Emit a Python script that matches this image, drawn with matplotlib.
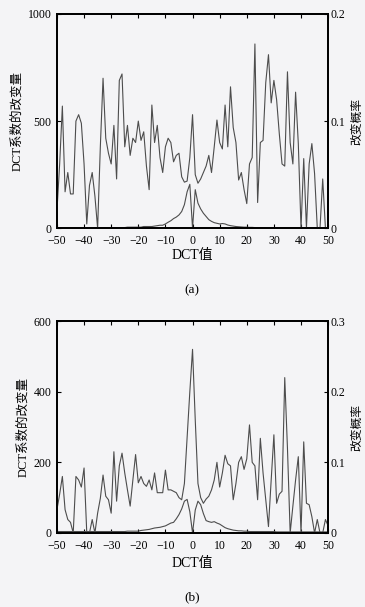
import numpy as np
import matplotlib
matplotlib.use("Agg")
import matplotlib.pyplot as plt

plt.rcParams['font.family'] = ['Liberation Serif', 'Noto Sans CJK SC']
plt.rcParams['axes.unicode_minus'] = True

# DCT values
dct = list(range(-50, 51))

# (a) change probability (right axis)
prob_a = [0.016, 0.060, 0.114, 0.034, 0.052, 0.032, 0.032, 0.100, 0.106, 0.098,
          0.060, 0.004, 0.040, 0.052, 0.030, 0.000, 0.076, 0.140, 0.084, 0.070,
          0.060, 0.096, 0.046, 0.138, 0.144, 0.076, 0.096, 0.068, 0.084, 0.080,
          0.100, 0.082, 0.090, 0.058, 0.036, 0.115, 0.080, 0.096, 0.066, 0.052,
          0.076, 0.084, 0.080, 0.062, 0.068, 0.070, 0.048, 0.043, 0.044, 0.066,
          0.106,
          0.050, 0.042, 0.046, 0.052, 0.058, 0.068, 0.052, 0.076, 0.101, 0.080,
          0.074, 0.115, 0.076, 0.132, 0.094, 0.080, 0.045, 0.052, 0.036, 0.023,
          0.060, 0.066, 0.172, 0.024, 0.080, 0.082, 0.136, 0.162, 0.117, 0.138,
          0.120, 0.088, 0.060, 0.058, 0.146, 0.080, 0.060, 0.127, 0.079, 0.000,
          0.065, 0.000, 0.060, 0.079, 0.051, 0.000, 0.000, 0.046, 0.000, 0.000]

# (a) number of changed coefficients (left axis)
count_a = [2, 2, 2, 2, 2, 2, 2, 2, 2, 2,
           2, 2, 2, 2, 2, 3, 3, 3, 3, 3,
           3, 3, 3, 3, 3, 3, 5, 5, 5, 5,
           5, 5, 8, 8, 8, 8, 10, 12, 14, 14,
           20, 28, 35, 45, 52, 62, 78, 110, 170, 205,
           0,
           180, 117, 90, 70, 55, 40, 32, 26, 23, 20,
           22, 20, 15, 12, 10, 8, 7, 6, 5, 5,
           4, 4, 3, 3, 3, 2, 2, 2, 2, 2,
           2, 2, 2, 2, 2, 1, 1, 1, 1, 1,
           1, 1, 1, 1, 1, 1, 1, 1, 1, 1]

# (b) change probability (right axis)
prob_b = [0.033, 0.055, 0.080, 0.033, 0.019, 0.015, 0.000, 0.080, 0.075, 0.065,
          0.092, 0.000, 0.000, 0.019, 0.000, 0.028, 0.049, 0.082, 0.052, 0.047,
          0.028, 0.115, 0.045, 0.095, 0.113, 0.085, 0.061, 0.038, 0.075, 0.111,
          0.071, 0.080, 0.070, 0.066, 0.075, 0.061, 0.085, 0.057, 0.057, 0.057,
          0.089, 0.061, 0.061, 0.059, 0.057, 0.050, 0.047, 0.070, 0.135, 0.200,
          0.260,
          0.160, 0.070, 0.050, 0.042, 0.048, 0.052, 0.061, 0.075, 0.100, 0.065,
          0.085, 0.110, 0.098, 0.095, 0.047, 0.070, 0.100, 0.108, 0.090, 0.105,
          0.153, 0.100, 0.095, 0.047, 0.134, 0.085, 0.047, 0.009, 0.075, 0.139,
          0.042, 0.055, 0.059, 0.220, 0.120, 0.000, 0.038, 0.075, 0.108, 0.000,
          0.129, 0.042, 0.040, 0.023, 0.000, 0.019, 0.000, 0.000, 0.019, 0.010]

# (b) number of changed coefficients (left axis)
count_b = [4, 4, 4, 4, 4, 4, 4, 4, 4, 4,
           4, 4, 4, 4, 4, 4, 4, 4, 4, 4,
           4, 4, 4, 4, 4, 4, 5, 5, 5, 5,
           5, 7, 8, 9, 10, 12, 14, 15, 16, 18,
           20, 24, 28, 30, 40, 52, 68, 90, 95, 60,
           0,
           65, 90, 80, 55, 35, 32, 30, 32, 28, 25,
           20, 15, 12, 10, 8, 7, 6, 6, 5, 5,
           4, 4, 4, 4, 4, 4, 4, 4, 4, 4,
           3, 3, 3, 3, 3, 3, 3, 3, 3, 3,
           3, 3, 3, 3, 3, 3, 3, 3, 3, 3]

bg = '#f4f4f6'
lc = '#4d4d4d'

fig = plt.figure(figsize=(3.65, 6.07), dpi=100, facecolor=bg)


def panel(rect, count, prob, lticks, rticks, tag, lab_y, tag_y):
    ax = fig.add_axes(rect, facecolor=bg)
    ax2 = ax.twinx()
    ax.plot(dct, count, color=lc, lw=0.8)
    ax2.plot(dct, prob, color=lc, lw=0.8)
    ax.set_xlim(-50, 50)
    ax.set_ylim(lticks[0], lticks[-1])
    ax2.set_ylim(rticks[0], rticks[-1])
    ax.set_xticks(range(-50, 51, 10))
    ax.set_yticks(lticks)
    ax2.set_yticks(rticks)
    ax2.set_yticklabels(['0' if t == 0 else f'{t:g}' for t in rticks])
    ax.tick_params(axis='x', direction='in', length=3, width=0.8,
                   labelsize=8.5, pad=5, top=True)
    ax.tick_params(axis='y', direction='in', length=3, width=0.8,
                   labelsize=8.5, pad=4)
    ax2.tick_params(direction='in', length=3, width=0.8, labelsize=8.5, pad=2)
    for a in (ax, ax2):
        for s in a.spines.values():
            s.set_linewidth(1.3)
    ax.set_ylabel('DCT系数的改变量', fontsize=9, labelpad=3)
    ax2.set_ylabel('改变概率', fontsize=8.5, labelpad=4)
    fig.text(0.527, lab_y, 'DCT值', ha='center', va='center', fontsize=10)
    fig.text(0.527, tag_y, tag, ha='center', va='center', fontsize=9.5)
    return ax


panel([0.156, 0.624, 0.743, 0.353], count_a, prob_a,
      [0, 500, 1000], [0, 0.1, 0.2], '(a)', 1 - 255 / 607, 1 - 290 / 607)
panel([0.156, 0.122, 0.743, 0.349], count_b, prob_b,
      [0, 200, 400, 600], [0, 0.1, 0.2, 0.3], '(b)', 1 - 563 / 607, 1 - 597 / 607)

fig.savefig('out.png', dpi=100, facecolor=bg)
